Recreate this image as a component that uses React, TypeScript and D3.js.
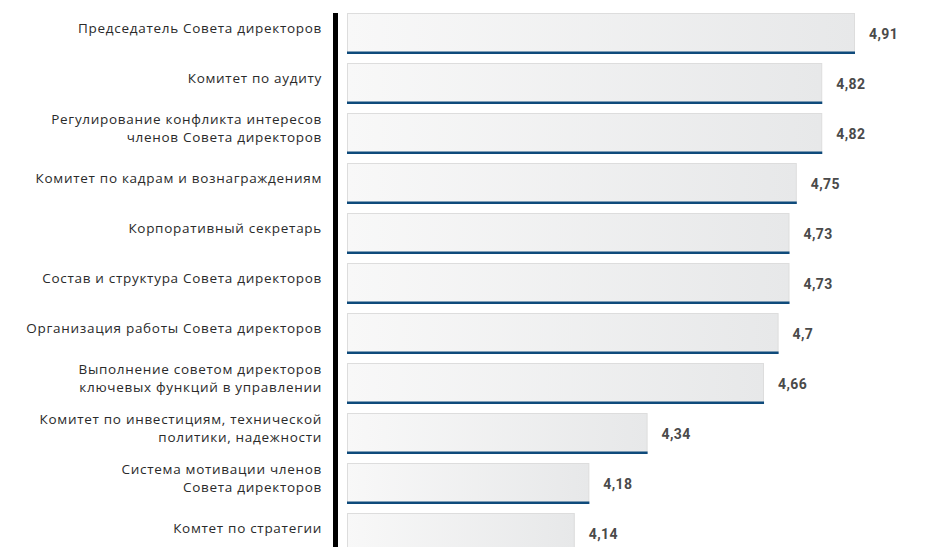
import React from "react";
import * as d3 from "d3";

const categories: string[] = [
  "Председатель Совета директоров",
  "Комитет по аудиту",
  "Регулирование конфликта интересов\nчленов Совета директоров",
  "Комитет по кадрам и вознаграждениям",
  "Корпоративный секретарь",
  "Состав и структура Совета директоров",
  "Организация работы Совета директоров",
  "Выполнение советом директоров\nключевых функций в управлении",
  "Комитет по инвестициям, технической\nполитики, надежности",
  "Система мотивации членов\nСовета директоров",
  "Комтет по стратегии",
];

const values: number[] = [4.91, 4.82, 4.82, 4.75, 4.73, 4.73, 4.7, 4.66, 4.34, 4.18, 4.14];

const W = 934;
const H = 547;
const barLeft = 347;
const axisX = 333;

const locale = d3.formatLocale({ decimal: ",", thousands: " ", grouping: [3], currency: ["", ""] });
const fmt = locale.format("~g");

export default function App() {
  const x = d3.scaleLinear().domain([3.514, 4.91]).range([barLeft, 855]);
  const y = d3.scaleBand<string>().domain(categories).range([13, 554]).paddingInner(0.18).paddingOuter(0);
  const bh = y.bandwidth();
  const lineH = 18.5;

  return (
    <svg width={W} height={H} style={{ position: "absolute", left: 0, top: 0, background: "#fff" }}
      fontFamily="'Open Sans', 'Noto Sans', sans-serif">
      <defs>
        <linearGradient id="barGrad" x1="0" x2="1" y1="0" y2="0">
          <stop offset="0%" stopColor="#f8f8f8" />
          <stop offset="100%" stopColor="#e7e8e9" />
        </linearGradient>
      </defs>
      <rect x={axisX} y={13} width={5} height={H - 13} fill="#000" />
      {categories.map((c, i) => {
        const top = y(c)!;
        const right = x(values[i]);
        const cy = top + bh / 2;
        const lines = c.split("\n");
        const startY = cy - 4 - ((lines.length - 1) * lineH) / 2;
        return (
          <g key={c}>
            <rect x={barLeft + 0.5} y={top + 0.5} width={right - barLeft - 1} height={bh - 1}
              fill="url(#barGrad)" stroke="#dddddd" strokeWidth={1} />
            <rect x={barLeft} y={top + bh - 2.5} width={right - barLeft} height={2.5} fill="#0e4a7b" />
            <text x={right + 14} y={cy + 2} dominantBaseline="middle" fontSize={14} fontWeight={700}
              fontFamily="Roboto, sans-serif" letterSpacing={0.4} fill="#4a4a4a">{fmt(values[i])}</text>
            <text textAnchor="end" fontSize={13.5} letterSpacing={0.7} fill="#2a2a2a">
              {lines.map((l, k) => (
                <tspan key={k} x={322} y={startY + k * lineH} dominantBaseline="middle">{l}</tspan>
              ))}
            </text>
          </g>
        );
      })}
    </svg>
  );
}
